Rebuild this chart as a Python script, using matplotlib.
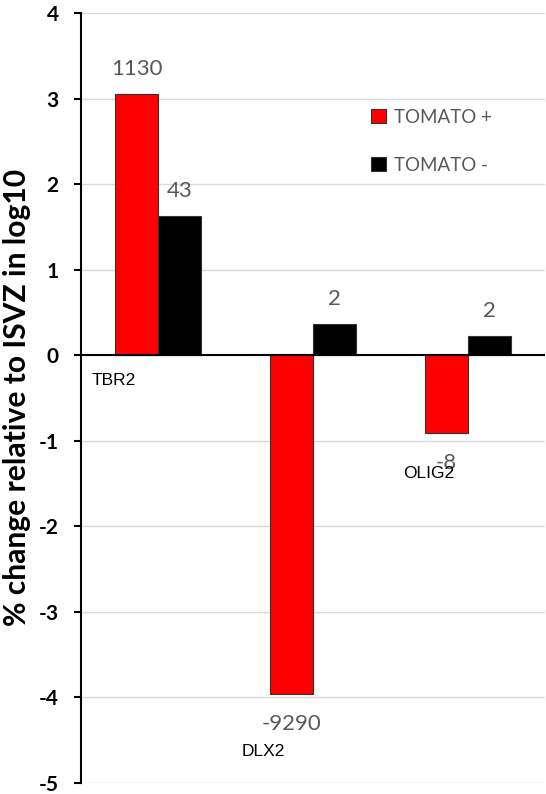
import matplotlib
matplotlib.use("Agg")
import matplotlib.pyplot as plt
from matplotlib import font_manager
import numpy as np

# data (log10 of fold change vs ISVZ)
genes = ["TBR2", "DLX2", "OLIG2"]
tomato_pos = [3.053, -3.96, -0.91]
tomato_neg = [1.633, 0.37, 0.23]
pos_labels = ["1130", "-9290", "-8"]
neg_labels = ["43", "2", "2"]
series_names = ["TOMATO +", "TOMATO -"]
yticks = [4, 3, 2, 1, 0, -1, -2, -3, -4, -5]

grey = "#595959"
installed = {f.name for f in font_manager.fontManager.ttflist}
label_font = "Liberation Sans Narrow" if "Liberation Sans Narrow" in installed else "Lato"

fig = plt.figure(figsize=(5.46, 7.94), dpi=100)
ax = fig.add_axes([0.148, 0.0139, 0.851, 0.9697])

x = np.arange(len(genes))
w = 0.278
ax.bar(x - w / 2, tomato_pos, w, color="#ff0000", edgecolor="#333333", linewidth=0.8,
       label=series_names[0], zorder=3)
ax.bar(x + w / 2, tomato_neg, w, color="#000000", edgecolor="#333333", linewidth=0.8,
       label=series_names[1], zorder=3)

# value labels above/below bars
for xi, v, s in zip(x - w / 2, tomato_pos, pos_labels):
    off = 25 if v > 0 else -30
    ax.annotate(s, (xi, v), xytext=(0, off), textcoords="offset pixels",
                ha="center", va="center", fontsize=16, color=grey, family="Lato")
for xi, v, s in zip(x + w / 2, tomato_neg, neg_labels):
    ax.annotate(s, (xi, v), xytext=(0, 25), textcoords="offset pixels",
                ha="center", va="center", fontsize=16, color=grey, family="Lato")

# category labels sit below the lowest bar of each group (Excel style)
cat_dx = [-44, -50, -39]
cat_dy = [-25, -58, -40]
for xi, v, name, dx, dy in zip(x, tomato_pos, genes, cat_dx, cat_dy):
    base = min(0, v)
    ax.annotate(name, (xi, base), xytext=(dx, dy), textcoords="offset pixels",
                ha="center", va="center", fontsize=12.5, color="black",
                family="Liberation Sans")

ax.set_xlim(-0.5, 2.5)
ax.set_ylim(-5, 4)
ax.set_yticks(yticks)
ax.set_yticklabels([str(t) for t in yticks], fontsize=15, fontweight="bold", family="Lato")
ax.set_xticks([])
ax.tick_params(axis="y", length=5, width=1.5, pad=11)
ax.grid(axis="y", color="#d9d9d9", linewidth=1, zorder=0)
ax.axhline(0, color="black", linewidth=1.5, zorder=4)
for s in ["top", "right", "bottom"]:
    ax.spines[s].set_visible(False)
ax.spines["left"].set_linewidth(1.5)

ylab = fig.text(0.032, 0.5, "% change relative to ISVZ in log10", rotation=90,
                ha="center", va="center", fontsize=18, fontweight="bold",
                family=label_font)
# scale the label so it spans the same height as in the original (~457 px)
fig.canvas.draw()
h = ylab.get_window_extent().height
ylab.set_fontsize(18 * 457 / h)

leg = ax.legend(loc="upper left", bbox_to_anchor=(0.605, 0.888), frameon=False,
                handlelength=0.8, handleheight=0.8, handletextpad=0.4,
                labelspacing=1.65, borderpad=0, prop={"family": "Lato", "size": 13.5})
for t in leg.get_texts():
    t.set_color(grey)

fig.savefig("out.png", dpi=100)
